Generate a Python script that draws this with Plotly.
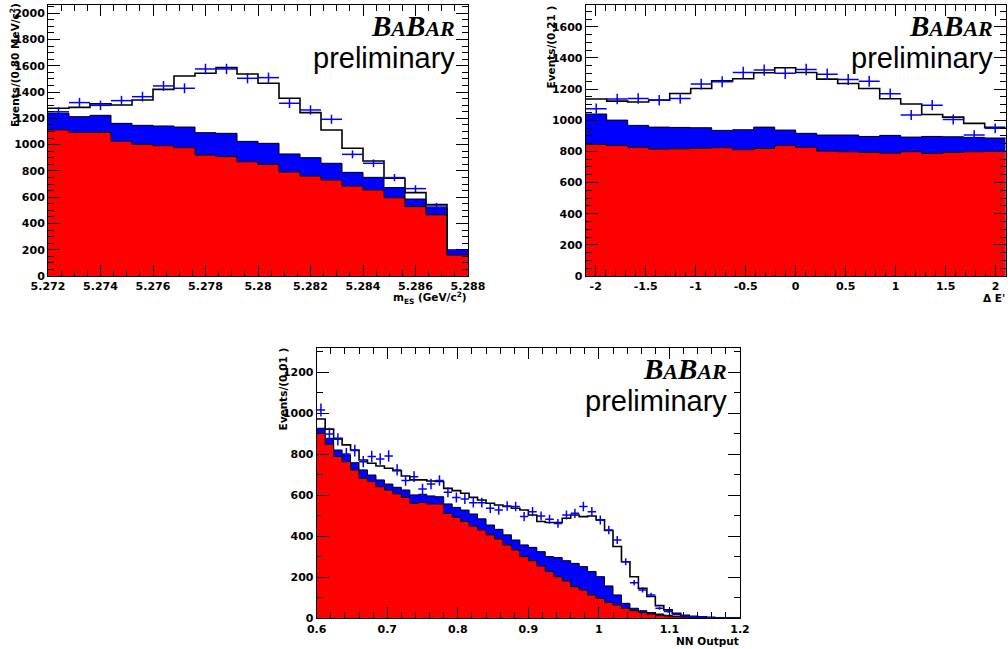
import numpy as np
import plotly.graph_objects as go

W, H = 1008, 649

# ---------------- Panel 1 : m_ES ----------------
mes_range = [5.272, 5.288]
mes_ticks = ["5.272", "5.274", "5.276", "5.278", "5.28", "5.282", "5.284", "5.286", "5.288"]
mes_cont = [1112, 1094, 1094, 1025, 1003, 992, 977, 921, 909, 870, 850, 792, 761, 731, 685, 655, 596, 528, 466, 160]
mes_bb = [127, 119, 129, 137, 144, 150, 157, 170, 177, 155, 160, 137, 140, 127, 104, 96, 77, 58, 54, 33]
mes_total = [1277, 1284, 1310, 1302, 1340, 1421, 1523, 1543, 1586, 1538, 1467, 1353, 1244, 1112, 972, 876, 744, 635, 544, 198]
mes_data = [1250, 1320, 1299, 1335, 1365, 1447, 1429, 1576, 1576, 1505, 1510, 1315, 1264, 1193, 926, 858, 749, 665, 533, 193]

# ---------------- Panel 2 : Delta E' ----------------
de_range = [-2.1, 2.1]
de_ticks = ["-2", "-1.5", "-1", "-0.5", "0", "0.5", "1", "1.5", "2"]
de_cont = [845, 838, 826, 815, 817, 821, 824, 811, 819, 838, 826, 802, 798, 794, 789, 798, 787, 794, 798, 800]
de_bb = [195, 163, 141, 141, 137, 131, 111, 128, 137, 99, 90, 103, 107, 102, 114, 94, 109, 100, 92, 86]
de_total = [1136, 1123, 1117, 1129, 1172, 1204, 1253, 1266, 1305, 1337, 1307, 1264, 1236, 1204, 1138, 1104, 1037, 1020, 980, 954]
de_data = [1074, 1136, 1140, 1129, 1140, 1232, 1247, 1307, 1322, 1301, 1326, 1296, 1262, 1251, 1170, 1033, 1097, 1005, 905, 948]

# ---------------- Panel 3 : NN output ----------------
nn_range = [0.6, 1.2]
nn_ticks = ["0.6", "0.7", "0.8", "0.9", "1", "1.1", "1.2"]
nn_cont = [902, 849, 789, 764, 724, 683, 667, 642, 626, 607, 590, 561, 566, 558, 558, 512, 493,
           472, 450, 431, 407, 387, 358, 333, 301, 281, 255, 228, 203, 182, 154, 138, 114, 98, 78, 65,
           49, 37, 28, 21, 15, 11, 8, 6, 5, 3, 3, 2, 2, 2]
nn_bb = [25, 29, 32, 33, 35, 41, 32, 33, 29, 32, 36, 41, 39, 39, 35, 46, 48,
         56, 59, 54, 48, 47, 49, 49, 57, 65, 70, 73, 93, 99, 114, 114, 114, 105, 80, 49,
         24, 12, 9, 7, 6, 4, 3, 2, 1, 2, 1, 2, 1, 1]
nn_total = [972, 923, 878, 846, 821, 772, 756, 743, 732, 720, 694, 675, 675, 670, 667, 634, 623,
            610, 590, 577, 561, 553, 545, 537, 528, 504, 472, 467, 467, 488, 504, 496, 499, 480, 428, 350,
            276, 203, 146, 106, 62, 41, 24, 15, 10, 7, 5, 3, 3, 2]
nn_data = [1016, 899, 873, 802, 818, 764, 789, 777, 792, 724, 672, 691, 631, 655, 672, 615, 589,
           582, 564, 564, 537, 528, 548, 545, 496, 520, 499, 483, 463, 504, 512, 545, 520, 480, 431, 382,
           276, 174, 138, 114, 49, 33, 20, 11, 8, 5, 3, 2, 1, 1]

# frame geometry in pixels: (left, right, top, bottom)
frames = {
    "1": (48, 468, 5, 276),
    "2": (585.7, 1005.7, 5, 276),
    "3": (316.7, 740, 347.7, 618.3),
}


def px(x):
    return x / W


def py(y):
    return 1 - y / H


def step(rng, vals):
    edges = np.linspace(rng[0], rng[1], len(vals) + 1)
    return edges, list(vals) + [vals[-1]]


fig = go.Figure()

panels = [
    ("1", mes_range, mes_cont, mes_bb, mes_total, mes_data),
    ("2", de_range, de_cont, de_bb, de_total, de_data),
    ("3", nn_range, nn_cont, nn_bb, nn_total, nn_data),
]

for key, rng, cont, bb, total, data in panels:
    xa = "x" if key == "1" else "x" + key
    ya = "y" if key == "1" else "y" + key
    cont = np.array(cont, float)
    bbtop = cont + np.array(bb, float)
    ex, ey = step(rng, bbtop)
    fig.add_trace(go.Scatter(x=ex, y=ey, mode="lines", line=dict(shape="hv", color="black", width=1),
                             fill="tozeroy", fillcolor="#0000ff", xaxis=xa, yaxis=ya, hoverinfo="skip"))
    ex, ey = step(rng, cont)
    fig.add_trace(go.Scatter(x=ex, y=ey, mode="lines", line=dict(shape="hv", color="black", width=1),
                             fill="tozeroy", fillcolor="#ff0000", xaxis=xa, yaxis=ya, hoverinfo="skip"))
    ex, ey = step(rng, total)
    fig.add_trace(go.Scatter(x=ex, y=ey, mode="lines", line=dict(shape="hv", color="black", width=1.6),
                             xaxis=xa, yaxis=ya, hoverinfo="skip"))
    n = len(data)
    bw = (rng[1] - rng[0]) / n
    centers = rng[0] + bw * (np.arange(n) + 0.5)
    d = np.array(data, float)
    fig.add_trace(go.Scatter(x=centers, y=d, mode="markers",
                             marker=dict(size=1, color="#0000ff"),
                             error_x=dict(type="constant", value=bw / 2, thickness=1.5, width=0, color="#0000ff"),
                             error_y=dict(type="data", array=np.sqrt(d), thickness=1.5, width=0, color="#0000ff"),
                             xaxis=xa, yaxis=ya, hoverinfo="skip"))

tickfont = dict(family="DejaVu Sans", size=11, color="black", weight="bold")


def xaxis_cfg(key, rng, labels, dmaj, dmin):
    l, r, t, b = frames[key]
    vals = np.round(np.arange(len(labels)) * dmaj + float(labels[0]), 6)
    return dict(domain=[px(l), px(r)], range=rng, anchor="y" if key == "1" else "y" + key,
                automargin=False,
                tickmode="array", tickvals=vals, ticktext=labels,
                ticks="inside", ticklen=11, tickwidth=1, tickcolor="black",
                minor=dict(ticks="inside", ticklen=6, dtick=dmin, tick0=rng[0], tickcolor="black", tickwidth=1),
                showline=True, linecolor="black", linewidth=1, mirror="ticks",
                showgrid=False, zeroline=False, tickfont=tickfont, fixedrange=True)


def yaxis_cfg(key, ymax, dmin):
    l, r, t, b = frames[key]
    return dict(domain=[py(b), py(t)], range=[0, ymax], anchor="x" if key == "1" else "x" + key,
                automargin=False,
                dtick=200, tick0=0, exponentformat="none", separatethousands=False,
                ticks="inside", ticklen=12, tickwidth=1, tickcolor="black",
                minor=dict(ticks="inside", ticklen=6, dtick=dmin, tickcolor="black", tickwidth=1),
                showline=True, linecolor="black", linewidth=1, mirror="ticks",
                showgrid=False, zeroline=False, tickfont=tickfont, fixedrange=True)


fig.update_layout(
    width=W, height=H, margin=dict(l=0, r=0, t=0, b=0, pad=0, autoexpand=False),
    paper_bgcolor="white", plot_bgcolor="white", showlegend=False,
    xaxis=xaxis_cfg("1", mes_range, mes_ticks, 0.002, 0.0005),
    yaxis=yaxis_cfg("1", 2063, 50),
    xaxis2=xaxis_cfg("2", de_range, de_ticks, 0.5, 0.1),
    yaxis2=yaxis_cfg("2", 1740, 50),
    xaxis3=xaxis_cfg("3", nn_range, nn_ticks, 0.1, 0.02),
    yaxis3=yaxis_cfg("3", 1320, 100),
)

titlefont = dict(family="DejaVu Sans", size=10.5, color="black", weight="bold")
ann = []
ytitles = [("1", "Events/(0.80 MeV/c<sup>2</sup>)", 15, 2),
           ("2", "Events/(0.21 )", 551, 5),
           ("3", "Events/(0.01 )", 282, 347)]
for key, txt, cx, top in ytitles:
    ann.append(dict(text=txt, x=px(cx), y=py(top), xref="paper", yref="paper", xanchor="center",
                    yanchor="top", textangle=-90, showarrow=False, font=titlefont, borderpad=0))

xtitles = [("m<sub>ES</sub> (GeV/c<sup>2</sup>)", 468, 298),
           ("Δ E'", 1006, 298),
           ("NN Output", 740, 641)]
for txt, rx, cy in xtitles:
    ann.append(dict(text=txt, x=px(rx), y=py(cy), xref="paper", yref="paper", xanchor="right",
                    yanchor="middle", showarrow=False, font=titlefont, borderpad=0))

for key in ["1", "2", "3"]:
    l, r, t, b = frames[key]
    ann.append(dict(text="<b><i>B<span style='font-size:22px'>A</span>B<span style='font-size:22px'>AR</span></i></b>",
                    x=px(r - 12), y=py(t + 4), xref="paper", yref="paper", xanchor="right", yanchor="top",
                    showarrow=False, font=dict(family="Liberation Serif", size=29, color="black"), borderpad=0))
    ann.append(dict(text="preliminary", x=px(r - 12), y=py(t + 36), xref="paper", yref="paper",
                    xanchor="right", yanchor="top", showarrow=False,
                    font=dict(family="Liberation Sans", size=29, color="black"), borderpad=0))

fig.update_layout(annotations=ann)
fig.write_html("out.html", config={"displayModeBar": False},
               post_script="document.body.style.margin='0';document.body.style.overflow='hidden';")
